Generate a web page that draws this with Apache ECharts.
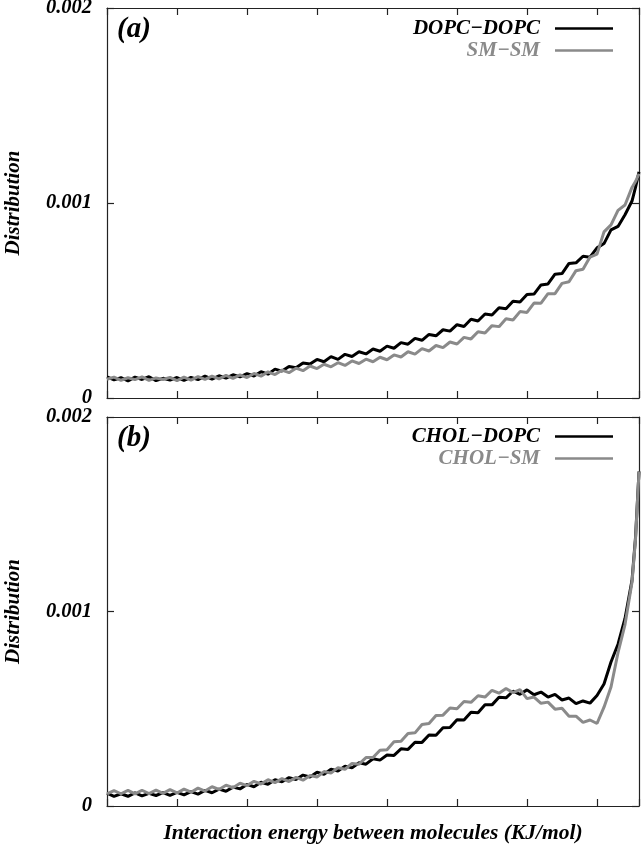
<!DOCTYPE html>
<html>
<head>
<meta charset="utf-8">
<script src="https://cdn.jsdelivr.net/npm/echarts@6/dist/echarts.min.js"></script>
<style>html,body{margin:0;padding:0;background:#fff}#c{width:642px;height:852px}</style>
</head>
<body>
<div id="c"></div>
<script>
// x positions (arbitrary energy units; axis has no tick labels)
var xs = [0.0,0.1,0.2,0.3,0.4,0.5,0.6,0.7,0.8,0.9,
          1.0,1.1,1.2,1.3,1.4,1.5,1.6,1.7,1.8,1.9,
          2.0,2.1,2.2,2.3,2.4,2.5,2.6,2.7,2.8,2.9,
          3.0,3.1,3.2,3.3,3.4,3.5,3.6,3.7,3.8,3.9,
          4.0,4.1,4.2,4.3,4.4,4.5,4.6,4.7,4.8,4.9,
          5.0,5.1,5.2,5.3,5.4,5.5,5.6,5.7,5.8,5.9,
          6.0,6.1,6.2,6.3,6.4,6.5,6.6,6.7,6.8,6.9,
          7.0,7.1,7.2,7.3,7.4,7.5,7.55,7.6];
// distributions, in units of 1e-4
var dopcDopc = [1.08,0.93,1.04,0.88,1.07,0.95,1.09,0.89,1.01,0.92,
                1.05,0.90,1.06,0.94,1.12,0.97,1.14,1.02,1.19,1.08,
                1.25,1.13,1.35,1.22,1.48,1.38,1.62,1.55,1.80,1.74,
                1.98,1.86,2.12,1.98,2.24,2.13,2.37,2.26,2.51,2.40,
                2.66,2.55,2.84,2.76,3.06,2.96,3.26,3.19,3.50,3.43,
                3.76,3.67,4.04,3.95,4.31,4.26,4.63,4.58,4.96,4.92,
                5.31,5.33,5.80,5.85,6.35,6.38,6.90,6.93,7.27,7.22,
                7.70,7.92,8.62,8.80,9.40,10.1,10.8,11.6];
var smSm = [0.96,1.07,0.91,1.04,0.94,1.08,0.90,1.03,0.95,1.06,
            0.89,1.07,0.92,1.10,0.95,1.12,0.98,1.16,1.01,1.19,
            1.05,1.26,1.12,1.34,1.20,1.43,1.30,1.53,1.40,1.64,
            1.51,1.73,1.60,1.81,1.67,1.90,1.77,1.99,1.86,2.09,
            1.96,2.21,2.10,2.37,2.25,2.53,2.41,2.69,2.58,2.87,
            2.77,3.11,3.03,3.40,3.33,3.71,3.66,4.06,4.00,4.43,
            4.39,4.87,4.86,5.35,5.35,5.88,5.96,6.53,6.60,7.23,
            7.38,8.52,8.88,9.62,9.90,10.8,11.1,11.5];
var cholDopc = [0.66,0.49,0.63,0.50,0.67,0.52,0.65,0.54,0.69,0.55,
                0.70,0.57,0.74,0.61,0.80,0.68,0.87,0.76,0.97,0.88,
                1.11,0.99,1.22,1.12,1.35,1.25,1.46,1.36,1.59,1.49,
                1.74,1.63,1.89,1.80,2.05,1.96,2.22,2.15,2.43,2.36,
                2.62,2.60,2.94,2.91,3.28,3.27,3.65,3.64,4.02,4.03,
                4.43,4.42,4.82,4.80,5.21,5.20,5.59,5.56,5.90,5.74,
                5.97,5.72,5.86,5.60,5.74,5.45,5.55,5.26,5.40,5.29,
                5.68,6.27,7.40,8.32,9.64,11.6,13.8,17.2];
var cholSm = [0.62,0.79,0.63,0.80,0.62,0.81,0.64,0.82,0.65,0.84,
              0.67,0.87,0.71,0.92,0.77,0.99,0.85,1.07,0.94,1.17,
              1.05,1.27,1.13,1.35,1.20,1.41,1.26,1.47,1.33,1.57,
              1.49,1.77,1.69,1.97,1.89,2.19,2.15,2.49,2.49,2.87,
              2.89,3.30,3.33,3.73,3.76,4.19,4.24,4.65,4.67,5.04,
              5.00,5.37,5.33,5.67,5.60,5.95,5.80,6.04,5.83,5.98,
              5.52,5.60,5.28,5.34,4.98,5.02,4.62,4.62,4.30,4.42,
              4.24,5.08,6.12,7.88,9.33,11.5,13.7,17.2];
var yTicks = [0, 0.001, 0.002];
var panelLabels = ['(a)', '(b)'];
var seriesNames = [['DOPC\u2212DOPC','SM\u2212SM'],['CHOL\u2212DOPC','CHOL\u2212SM']];
var yName = 'Distribution';
var xName = 'Interaction energy between molecules (KJ/mol)';

function pairs(arr){ return xs.map(function(x,i){ return [x, arr[i]*1e-4]; }); }

var FONT = '"Liberation Serif", "Times New Roman", serif';
var BLACK = '#000000', GRAY = '#8a8a8a', FRAME = '#222';

var grids = [
  {left:107, top:8, width:532, height:390, containLabel:false, outerBoundsMode:'none'},
  {left:107, top:417, width:532, height:389, containLabel:false, outerBoundsMode:'none'}
];
var xAxes = [], yAxes = [];
[0,1].forEach(function(g){
  var common = {type:'value', min:0, max:7.6, interval:1, gridIndex:g,
    axisLine:{show:true, onZero:false, lineStyle:{color:FRAME, width:1.2}},
    axisTick:{show:true, inside:true, length:7, lineStyle:{color:FRAME, width:1.2}},
    axisLabel:{show:false}, splitLine:{show:false}};
  var bx = Object.assign({}, common, {position:'bottom'});
  if (g===1){
    bx.name = xName; bx.nameLocation='middle'; bx.nameGap=16;
    bx.nameTextStyle = {fontFamily:FONT, fontStyle:'italic', fontWeight:'bold', fontSize:21.5, color:'#000', verticalAlign:'top'};
  }
  xAxes.push(bx);
  xAxes.push(Object.assign({}, common, {position:'top'}));
  var ycommon = {type:'value', min:yTicks[0], max:yTicks[2], interval:0.001, gridIndex:g,
    axisLine:{show:true, onZero:false, lineStyle:{color:FRAME, width:1.2}},
    axisTick:{show:true, inside:true, length:7, lineStyle:{color:FRAME, width:1.2}},
    splitLine:{show:false}};
  yAxes.push(Object.assign({}, ycommon, {position:'left',
    axisLabel:{show:true, margin:15, fontFamily:FONT, fontStyle:'italic', fontWeight:'bold', fontSize:20.5, color:'#000',
      formatter:function(v){ return v===0 ? '0' : v.toFixed(3); }},
    name:yName, nameLocation:'middle', nameGap:83, nameRotate:90,
    nameTextStyle:{fontFamily:FONT, fontStyle:'italic', fontWeight:'bold', fontSize:21, color:'#000'}}));
  yAxes.push(Object.assign({}, ycommon, {position:'right', axisLabel:{show:false}}));
});

var datasets = [[dopcDopc, smSm],[cholDopc, cholSm]];
var series = [];
[0,1].forEach(function(g){
  series.push({type:'line', name:seriesNames[g][0], xAxisIndex:2*g, yAxisIndex:2*g, data:pairs(datasets[g][0]),
    showSymbol:false, lineStyle:{color:BLACK, width:3}, itemStyle:{color:BLACK}, z:2});
  series.push({type:'line', name:seriesNames[g][1], xAxisIndex:2*g, yAxisIndex:2*g, data:pairs(datasets[g][1]),
    showSymbol:false, lineStyle:{color:GRAY, width:3}, itemStyle:{color:GRAY}, z:3});
});

var legendTops = [13, 421];
var legends = [0,1].map(function(g){
  return {orient:'vertical', right:24, top:legendTops[g], align:'right', icon:'rect', itemWidth:58, itemHeight:2.5, itemGap:1,
    textStyle:{fontFamily:FONT, fontStyle:'italic', fontWeight:'bold', fontSize:21, padding:[0,10,0,0]},
    data:[{name:seriesNames[g][0], textStyle:{color:BLACK}},{name:seriesNames[g][1], textStyle:{color:GRAY}}],
    selectedMode:false};
});

var titles = [0,1].map(function(g){
  return {text:panelLabels[g], left:117, top:[15, 424][g], padding:0,
    textStyle:{fontFamily:FONT, fontStyle:'italic', fontWeight:'bold', fontSize:29, color:'#000'}};
});

var chart = echarts.init(document.getElementById('c'), null, {renderer:'canvas'});
chart.setOption({
  animation:false, backgroundColor:'#fff',
  title:titles, legend:legends, grid:grids, xAxis:xAxes, yAxis:yAxes, series:series
});
</script>
</body>
</html>
